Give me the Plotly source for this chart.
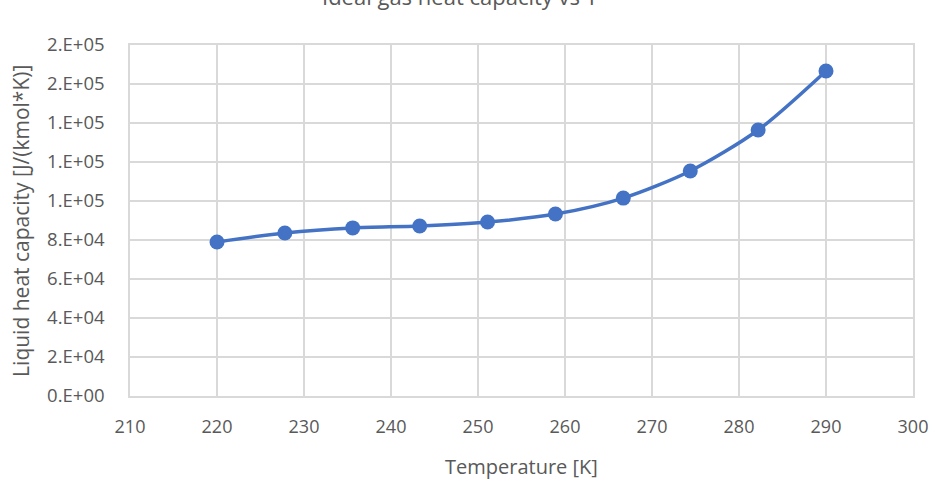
import plotly.graph_objects as go

# Temperature points [K] and liquid heat capacity [J/(kmol*K)]
temperature = [220.0, 227.8, 235.6, 243.3, 251.1, 258.9, 266.7, 274.4, 282.2, 290.0]
heat_capacity = [79000, 83600, 86200, 87200, 89200, 93300, 101500, 115400, 136400, 166700]

y_tick_vals = [0, 20000, 40000, 60000, 80000, 100000, 120000, 140000, 160000, 180000]
y_tick_text = ["0.E+00", "2.E+04", "4.E+04", "6.E+04", "8.E+04",
               "1.E+05", "1.E+05", "1.E+05", "2.E+05", "2.E+05"]
x_tick_vals = [210, 220, 230, 240, 250, 260, 270, 280, 290, 300]

FONT = "Open Sans"
TXT = "#595959"
GRID = "#d9d9d9"
BLUE = "#4472C4"

fig = go.Figure()
fig.add_trace(go.Scatter(
    x=temperature, y=heat_capacity,
    mode="lines+markers",
    line=dict(color=BLUE, width=3.5, shape="spline", smoothing=0.8),
    marker=dict(color=BLUE, size=15),
    showlegend=False,
))

fig.update_layout(
    width=940, height=481,
    margin=dict(l=130, r=24, t=45, b=85),
    paper_bgcolor="white", plot_bgcolor="white",
    font=dict(family=FONT, color=TXT, size=17),
    xaxis=dict(
        range=[210, 300], tickvals=x_tick_vals,
        showgrid=True, gridcolor=GRID, gridwidth=1.5,
        showline=True, linecolor=GRID, linewidth=1.5, mirror=True,
        zeroline=False, ticks="", ticklen=0, ticklabelstandoff=14,
        tickfont=dict(size=18, color=TXT),
    ),
    yaxis=dict(
        range=[0, 180000], tickvals=y_tick_vals, ticktext=y_tick_text,
        showgrid=True, gridcolor=GRID, gridwidth=1.5,
        showline=True, linecolor=GRID, linewidth=1.5, mirror=True,
        zeroline=False, ticks="", ticklen=0, ticklabelstandoff=20,
        tickfont=dict(size=18.5, color=TXT),
    ),
    annotations=[
        dict(text="Ideal gas heat capacity vs T", xref="paper", yref="paper",
             x=0.422, y=1.14, xanchor="center", yanchor="middle",
             showarrow=False, font=dict(size=22, color=TXT, family=FONT)),
        dict(text="Liquid heat capacity [J/(kmol*K)]", xref="paper", yref="paper",
             x=-0.14, y=0.5, xanchor="center", yanchor="middle", textangle=-90,
             showarrow=False, font=dict(size=21, color=TXT, family=FONT)),
        dict(text="Temperature [K]", xref="paper", yref="paper",
             x=0.5, y=-0.2, xanchor="center", yanchor="middle",
             showarrow=False, font=dict(size=20, color=TXT, family=FONT)),
    ],
)

fig.write_html("out.html")
